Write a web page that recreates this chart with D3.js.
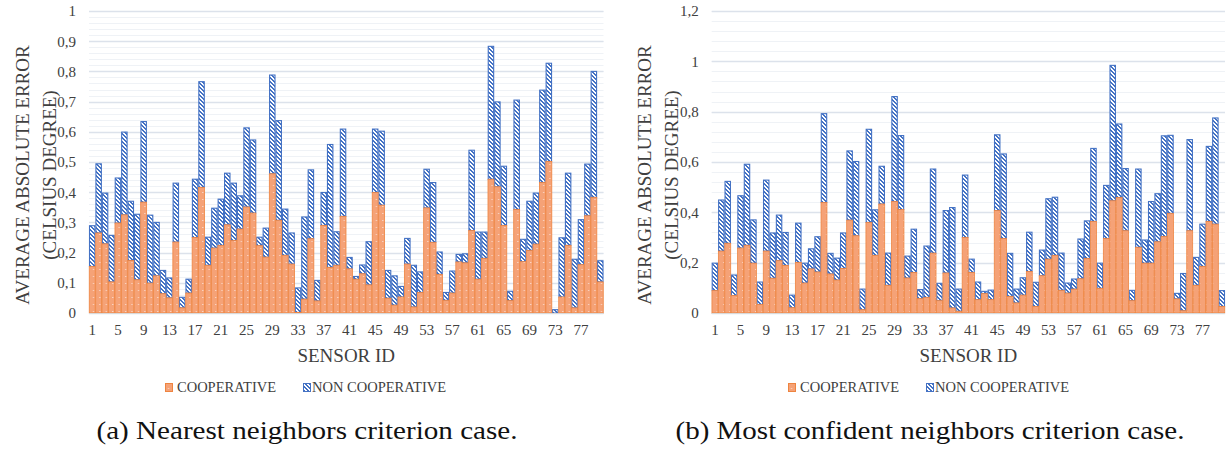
<!DOCTYPE html>
<html><head><meta charset="utf-8">
<script src="https://cdn.jsdelivr.net/npm/d3@7"></script>
</head>
<body style="margin:0">
<svg id="chart" width="1231" height="450"></svg>
<script>
// ---------- DATA ----------
const sensorIds = d3.range(1, 81);
const xTickLabels = [1,5,9,13,17,21,25,29,33,37,41,45,49,53,57,61,65,69,73,77];
const seriesNames = ["COOPERATIVE", "NON COOPERATIVE"];

// Panel (a): Nearest neighbors criterion case
const coopA = [0.154,0.265,0.229,0.103,0.298,0.325,0.174,0.110,0.367,0.099,
  0.123,0.064,0.050,0.235,0.017,0.066,0.250,0.416,0.158,0.215,
  0.224,0.292,0.240,0.278,0.351,0.331,0.223,0.185,0.461,0.307,
  0.191,0.162,0.002,0.046,0.246,0.040,0.290,0.151,0.158,0.320,
  0.146,0.112,0.130,0.093,0.399,0.357,0.049,0.026,0.053,0.162,
  0.020,0.068,0.348,0.234,0.128,0.042,0.066,0.169,0.166,0.273,
  0.112,0.181,0.443,0.418,0.290,0.041,0.343,0.170,0.207,0.228,
  0.432,0.502,0.000,0.053,0.224,0.017,0.160,0.322,0.383,0.103];
const nonCoopA = [0.289,0.494,0.397,0.257,0.447,0.599,0.370,0.327,0.634,0.324,
  0.300,0.141,0.116,0.430,0.052,0.112,0.443,0.766,0.251,0.347,
  0.377,0.463,0.430,0.388,0.613,0.573,0.251,0.281,0.788,0.637,
  0.344,0.265,0.083,0.318,0.474,0.108,0.399,0.558,0.269,0.609,
  0.184,0.121,0.159,0.236,0.609,0.602,0.141,0.123,0.088,0.247,
  0.158,0.136,0.476,0.432,0.202,0.068,0.139,0.194,0.196,0.539,
  0.268,0.268,0.883,0.699,0.486,0.072,0.705,0.244,0.370,0.397,
  0.738,0.827,0.011,0.249,0.463,0.178,0.309,0.493,0.800,0.173];
const yTicksA = [0,0.1,0.2,0.3,0.4,0.5,0.6,0.7,0.8,0.9,1];

// Panel (b): Most confident neighbors criterion case
const coopB = [0.089,0.246,0.277,0.069,0.258,0.269,0.198,0.034,0.246,0.138,
  0.208,0.189,0.021,0.201,0.119,0.175,0.163,0.439,0.155,0.131,
  0.177,0.369,0.307,0.013,0.360,0.229,0.433,0.110,0.443,0.411,
  0.139,0.161,0.057,0.062,0.238,0.049,0.159,0.020,0.007,0.300,
  0.161,0.053,0.077,0.053,0.407,0.296,0.066,0.040,0.071,0.165,
  0.026,0.148,0.214,0.229,0.090,0.079,0.095,0.136,0.217,0.364,
  0.098,0.296,0.446,0.459,0.327,0.049,0.261,0.198,0.198,0.283,
  0.304,0.396,0.056,0.009,0.327,0.110,0.185,0.364,0.353,0.026];
const nonCoopB = [0.198,0.449,0.523,0.151,0.466,0.591,0.370,0.123,0.528,0.318,
  0.389,0.320,0.071,0.357,0.198,0.255,0.303,0.792,0.237,0.218,
  0.318,0.644,0.602,0.095,0.730,0.410,0.583,0.238,0.860,0.705,
  0.226,0.333,0.093,0.266,0.572,0.118,0.407,0.419,0.095,0.548,
  0.214,0.123,0.086,0.091,0.708,0.632,0.237,0.095,0.140,0.321,
  0.122,0.250,0.454,0.460,0.238,0.119,0.135,0.294,0.366,0.654,
  0.198,0.507,0.984,0.751,0.574,0.090,0.572,0.290,0.443,0.474,
  0.704,0.706,0.078,0.157,0.689,0.221,0.353,0.662,0.775,0.089];
const yTicksB = [0,0.2,0.4,0.6,0.8,1,1.2];

const yTitle1 = "AVERAGE ABSOLUTE ERROR";
const yTitle2 = "(CELSIUS DEGREE)";
const xTitle = "SENSOR ID";
const captionA = "(a) Nearest neighbors criterion case.";
const captionB = "(b) Most confident neighbors criterion case.";

// ---------- DRAW ----------
const FONT = "Liberation Serif";
const svg = d3.select("#chart");
const defs = svg.append("defs");

const pO = defs.append("pattern").attr("id","pOrange").attr("patternUnits","userSpaceOnUse")
  .attr("width",6.43).attr("height",7);
pO.append("rect").attr("width",6.43).attr("height",7).attr("fill","#f5a277");
pO.append("rect").attr("x",3).attr("y",3).attr("width",1).attr("height",1).attr("fill","#fde8dc");

const pB = defs.append("pattern").attr("id","pBlue").attr("patternUnits","userSpaceOnUse")
  .attr("width",4).attr("height",4);
pB.append("rect").attr("width",4).attr("height",4).attr("fill","#ffffff");
[[0,0],[1,0],[1,1],[2,1],[2,2],[3,2],[3,3],[0,3]].forEach(([x,y])=>{
  pB.append("rect").attr("x",x).attr("y",y).attr("width",1).attr("height",1).attr("fill","#4472c4");
});

const fmt = v => String(+v.toFixed(2)).replace(".", ",");

function txt(sel, size, color){
  return sel.style("font-family", FONT).attr("font-size", size).attr("fill", color);
}

function panel(cfg){
  const {x0,x1,yTop,yBot,yMax,ticks,minorStep,coop,noncoop,titleX,legendX,captionCX,captionText,captionLen} = cfg;
  const g = svg.append("g");
  const x = d3.scaleBand().domain(sensorIds).range([x0,x1]).padding(0);
  const y = d3.scaleLinear().domain([0,yMax]).range([yBot,yTop]);

  const minor = d3.range(0, yMax + 1e-9, minorStep).map(v=>+v.toFixed(3));
  g.append("g").selectAll("line").data(minor).join("line")
    .attr("x1",x0).attr("x2",x1).attr("y1",d=>Math.round(y(d))+0.5).attr("y2",d=>Math.round(y(d))+0.5)
    .attr("stroke","#eff2f6").attr("stroke-width",1);
  g.append("g").selectAll("line").data(ticks).join("line")
    .attr("x1",x0).attr("x2",x1).attr("y1",d=>Math.round(y(d))+0.5).attr("y2",d=>Math.round(y(d))+0.5)
    .attr("stroke","#dce2eb").attr("stroke-width",1.3);

  const yAxis = d3.axisLeft(y).tickValues(ticks).tickFormat(fmt).tickSize(0).tickPadding(0);
  const ya = g.append("g").attr("transform",`translate(${x0-13},0)`).call(yAxis);
  ya.attr("font-family",null).attr("font-size",null);
  ya.select(".domain").remove();
  txt(ya.selectAll("text"), 15, "#404040");

  const xAxis = d3.axisBottom(x).tickValues(xTickLabels).tickSize(0).tickPadding(0);
  const xa = g.append("g").attr("transform",`translate(0,${yBot+11})`).call(xAxis);
  xa.attr("font-family",null).attr("font-size",null);
  xa.select(".domain").remove();
  txt(xa.selectAll("text"), 15, "#404040");

  const data = sensorIds.map((id,i)=>({id, c:coop[i], n:noncoop[i]}));
  g.append("g").selectAll("rect").data(data).join("rect")
    .attr("x",d=>x(d.id)+0.5).attr("width",x.bandwidth()-1)
    .attr("y",d=>y(d.n)).attr("height",d=>Math.max(0,y(d.c)-y(d.n)))
    .attr("fill","url(#pBlue)").attr("stroke","#4472c4").attr("stroke-width",1.1);
  g.append("g").selectAll("rect").data(data).join("rect")
    .attr("x",d=>x(d.id)+0.25).attr("width",x.bandwidth()-0.5)
    .attr("y",d=>y(d.c)).attr("height",d=>y(0)-y(d.c))
    .attr("fill","url(#pOrange)").attr("stroke","#ee8440").attr("stroke-width",0.8);

  g.append("line").attr("x1",x0).attr("x2",x1).attr("y1",yBot+0.5).attr("y2",yBot+0.5)
    .attr("stroke","#d9d9d9").attr("stroke-width",1);

  const cy = 175;
  txt(g.append("text").attr("transform",`translate(${titleX},${cy}) rotate(-90)`)
    .attr("text-anchor","middle"), 19, "#404040").text(yTitle1);
  txt(g.append("text").attr("transform",`translate(${titleX+27},${cy}) rotate(-90)`)
    .attr("text-anchor","middle"), 19, "#404040").text(yTitle2);

  txt(g.append("text").attr("x",(x0+x1)/2).attr("y",362).attr("text-anchor","middle"), 19, "#404040").text(xTitle);

  const lg = g.append("g").attr("transform",`translate(${legendX},0)`);
  lg.append("rect").attr("x",0.5).attr("y",383.5).attr("width",7).attr("height",8)
    .attr("fill","url(#pOrange)").attr("stroke","#ee8440").attr("stroke-width",1);
  txt(lg.append("text").attr("x",12).attr("y",392), 14.5, "#404040").text(seriesNames[0]);
  lg.append("rect").attr("x",138.5).attr("y",383.5).attr("width",7).attr("height",8)
    .attr("fill","url(#pBlue)").attr("stroke","#4472c4").attr("stroke-width",1);
  txt(lg.append("text").attr("x",147).attr("y",392), 14.5, "#404040").text(seriesNames[1]);

  txt(svg.append("text").attr("x",captionCX).attr("y",439).attr("text-anchor","middle")
    .attr("textLength",captionLen).attr("lengthAdjust","spacingAndGlyphs"), 25, "#111").text(captionText);
}

panel({x0:89,x1:603.5,yTop:11,yBot:313,yMax:1,ticks:yTicksA,minorStep:0.02,
  coop:coopA,noncoop:nonCoopA,titleX:29,legendX:165,captionCX:307,captionLen:421,captionText:captionA});
panel({x0:711.7,x1:1225,yTop:11,yBot:313,yMax:1.2,ticks:yTicksB,minorStep:0.04,
  coop:coopB,noncoop:nonCoopB,titleX:651,legendX:788,captionCX:930,captionLen:509,captionText:captionB});
</script>
</body></html>
